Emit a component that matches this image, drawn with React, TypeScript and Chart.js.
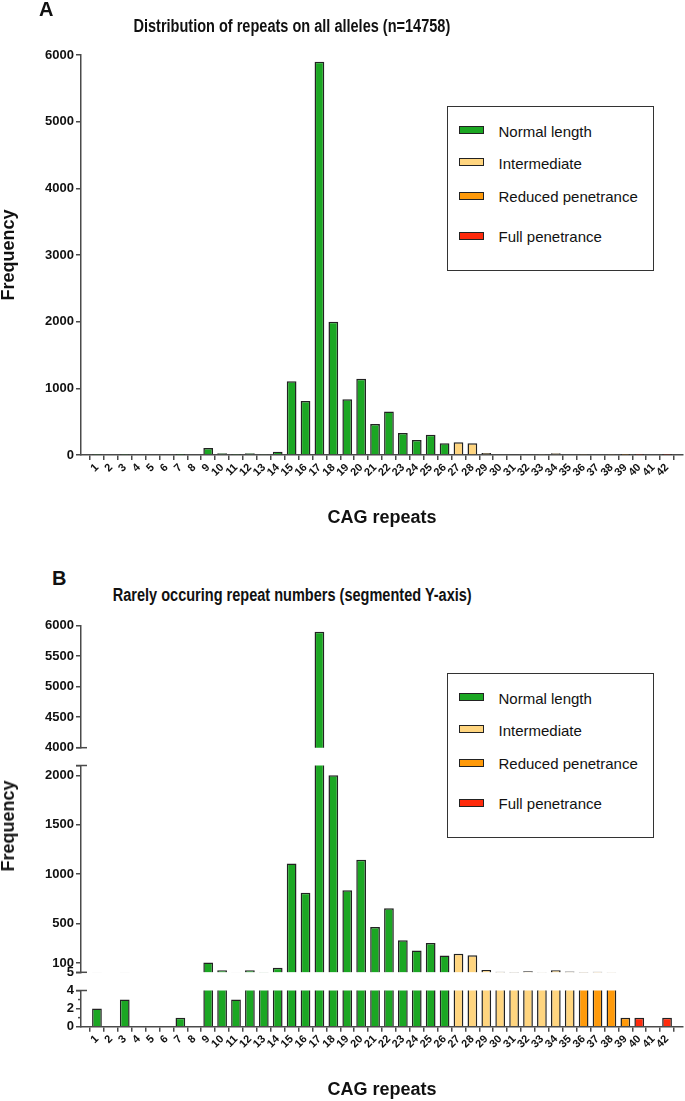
import React, { useEffect, useRef } from 'react';
import { Chart, registerables } from 'chart.js';

Chart.register(...registerables);

// ---------------- data ----------------
const repeats = [
  1, 2, 3, 4, 5, 6, 7, 8, 9, 10, 11, 12, 13, 14, 15, 16, 17, 18, 19, 20, 21,
  22, 23, 24, 25, 26, 27, 28, 29, 30, 31, 32, 33, 34, 35, 36, 37, 38, 39, 40, 41, 42,
];
const frequency = [
  2, 0, 3, 0, 0, 0, 1, 0, 105, 25, 3, 25, 6, 50, 1108, 810, 5900, 2000, 837, 1145, 465,
  654, 330, 226, 302, 176, 192, 178, 29, 10, 8, 15, 6, 25, 12, 7, 10, 6, 1, 1, 0, 1,
];
const classNames = ['Normal length', 'Intermediate', 'Reduced penetrance', 'Full penetrance'];
const classColors = ['#1BA723', '#FFD57F', '#FF9A0A', '#FF2B0C'];
const classUpperBound = [26, 35, 39, 42];

const yTicksA = [0, 1000, 2000, 3000, 4000, 5000, 6000];
const yTicksTop = [4000, 4500, 5000, 5500, 6000];
const yTicksMid = [5, 100, 500, 1000, 1500, 2000, 2100];
const yLabelsMid = ['5', '100', '500', '1000', '1500', '2000', ''];
const yTicksLow = [0, 1, 2, 3, 4];
const yLabelsLow = ['0', '', '2', '', '4'];
const xRange = [0.368, 42.632];

const titleA = 'Distribution of repeats on all alleles (n=14758)';
const titleB = 'Rarely occuring repeat numbers (segmented Y-axis)';
const xTitle = 'CAG repeats';
const yTitle = 'Frequency';

// ---------------- styles ----------------
const AXIS = '#4a4a4a';
const INK = '#111111';
const BAR_BORDER = '#222222';
const FONT = '"Liberation Sans", Arial, Helvetica, sans-serif';

Chart.defaults.font.family = FONT;
Chart.defaults.color = INK;

const colorFor = (r: number) => classColors[classUpperBound.findIndex((b) => r <= b)];

const axisBreakPlugin = {
  id: 'axisBreak',
  afterDraw(chart: any, _args: any, opts: any) {
    const { ctx, chartArea } = chart;
    const y = chart.scales.y;
    ctx.save();
    ctx.strokeStyle = AXIS;
    ctx.lineWidth = 1.5;
    const seg = (py: number, x0: number, x1: number) => {
      ctx.beginPath();
      ctx.moveTo(x0, py);
      ctx.lineTo(x1, py);
      ctx.stroke();
    };
    if (opts.top) seg(chartArea.top, chartArea.left - 5, chartArea.left + 6);
    if (opts.bottom) seg(chartArea.bottom, chartArea.left - 5, chartArea.left + 6);
    (opts.minor || []).forEach((v: number) => seg(y.getPixelForValue(v), chartArea.left - 3, chartArea.left));
    ctx.restore();
  },
};

type Cfg = {
  yTicks: number[];
  yLabels?: string[];
  showX: boolean;
  padTop: number;
  padBottom: number;
  breakTop?: boolean;
  breakBottom?: boolean;
  minor?: number[];
  showYTitle?: boolean;
};

function makeConfig(p: Cfg): any {
  const labels = p.yLabels || p.yTicks.map(String);
  return {
    type: 'bar',
    data: {
      datasets: [
        {
          data: repeats.map((r, i) => ({ x: r, y: frequency[i] })),
          backgroundColor: repeats.map(colorFor),
          borderColor: BAR_BORDER,
          borderWidth: 1.5,
          barPercentage: 1,
          categoryPercentage: 0.7,
          clip: 0,
        },
      ],
    },
    options: {
      animation: false,
      responsive: false,
      maintainAspectRatio: false,
      layout: { padding: { left: 0, right: 2, top: p.padTop, bottom: p.padBottom } },
      plugins: {
        legend: { display: false },
        tooltip: { enabled: false },
        title: { display: false },
        axisBreak: { top: p.breakTop, bottom: p.breakBottom, minor: p.minor },
      },
      scales: {
        x: {
          type: 'linear',
          display: p.showX,
          min: xRange[0],
          max: xRange[1],
          afterBuildTicks: (s: any) => {
            s.ticks = repeats.map((v) => ({ value: v }));
          },
          afterFit: (s: any) => {
            s.height = p.showX ? 72 : 0;
          },
          ticks: {
            autoSkip: false,
            minRotation: 45,
            maxRotation: 45,
            padding: 1,
            color: INK,
            font: { size: 11, weight: 'bold' },
            callback: (v: any) => String(v),
          },
          grid: { drawOnChartArea: false, drawTicks: true, tickLength: 5, color: AXIS, lineWidth: 1.5 },
          border: { display: true, color: AXIS, width: 1.5 },
          title: {
            display: true,
            text: xTitle,
            color: INK,
            font: { size: 18, weight: 'bold', lineHeight: 1 },
            padding: { top: 0, bottom: 0 },
          },
        },
        y: {
          type: 'linear',
          min: p.yTicks[0],
          max: p.yTicks[p.yTicks.length - 1],
          afterBuildTicks: (s: any) => {
            s.ticks = p.yTicks.map((v) => ({ value: v }));
          },
          afterFit: (s: any) => {
            s.width = 81;
          },
          ticks: {
            autoSkip: false,
            padding: 2,
            color: INK,
            font: { size: 13, weight: 'bold' },
            callback: (_v: any, i: number) => labels[i],
          },
          grid: {
            drawOnChartArea: false,
            drawTicks: true,
            tickLength: 5,
            lineWidth: 1.5,
            color: AXIS,
            tickColor: (ctx: any) =>
              p.minor && ctx.tick && p.minor.includes(ctx.tick.value) ? 'rgba(0,0,0,0)' : AXIS,
          },
          border: { display: true, color: AXIS, width: 1.5 },
          title: {
            display: !!p.showYTitle,
            text: yTitle,
            color: INK,
            font: { size: 18, weight: 'bold', lineHeight: 1 },
            padding: { top: 0, bottom: 0 },
          },
        },
      },
    },
    plugins: [axisBreakPlugin],
  };
}

const legendRows = [24.5, 56.5, 90, 130];

function Legend({ top }: { top: number }) {
  return (
    <div
      style={{
        position: 'absolute',
        left: 447,
        top,
        width: 207,
        height: 165,
        border: '1.5px solid #333',
        boxSizing: 'border-box',
        background: '#fff',
      }}
    >
      {classNames.map((name, i) => (
        <React.Fragment key={name}>
          <div
            style={{
              position: 'absolute',
              left: 10.5,
              top: legendRows[i] - 1.5 - 4,
              width: 25,
              height: 8,
              boxSizing: 'border-box',
              border: '1px solid #222',
              background: classColors[i],
            }}
          />
          <div
            style={{
              position: 'absolute',
              left: 50.5,
              top: legendRows[i] - 1.5 - 7.5 + 1,
              fontFamily: FONT,
              fontSize: 15,
              lineHeight: '15px',
              color: INK,
              whiteSpace: 'nowrap',
            }}
          >
            {name}
          </div>
        </React.Fragment>
      ))}
    </div>
  );
}

const abs = (left: number, top: number, extra: any = {}) => ({ position: 'absolute' as const, left, top, ...extra });

export default function App() {
  const refA = useRef<HTMLCanvasElement>(null);
  const refTop = useRef<HTMLCanvasElement>(null);
  const refMid = useRef<HTMLCanvasElement>(null);
  const refLow = useRef<HTMLCanvasElement>(null);

  useEffect(() => {
    const charts = [
      new Chart(refA.current!, makeConfig({ yTicks: yTicksA, showX: true, padTop: 55, padBottom: 0, showYTitle: true })),
      new Chart(refTop.current!, makeConfig({ yTicks: yTicksTop, showX: false, padTop: 20.7, padBottom: 17.3, breakBottom: true })),
      new Chart(
        refMid.current!,
        makeConfig({ yTicks: yTicksMid, yLabels: yLabelsMid, showX: false, padTop: 20.5, padBottom: 17.7, breakTop: true, breakBottom: true })
      ),
      new Chart(
        refLow.current!,
        makeConfig({ yTicks: yTicksLow, yLabels: yLabelsLow, showX: true, padTop: 20.5, padBottom: 0.3, breakTop: true, minor: [1, 3] })
      ),
    ];
    return () => charts.forEach((c) => c.destroy());
  }, []);

  const letter = { fontFamily: FONT, fontWeight: 'bold' as const, fontSize: 20, lineHeight: '20px', color: INK };
  const ttlWrap = { width: 584, display: 'flex', justifyContent: 'center' };
  const ttl = {
    fontFamily: FONT,
    fontWeight: 'bold' as const,
    fontSize: 17.5,
    lineHeight: '17.5px',
    color: INK,
    whiteSpace: 'nowrap' as const,
    transform: 'scaleX(0.83)',
    transformOrigin: '50% 50%',
  };

  return (
    <div style={{ position: 'absolute', left: 0, top: 0, width: 685, height: 1101, background: '#fff', overflow: 'hidden' }}>
      <canvas ref={refA} width={685} height={527} style={abs(0, 0)} />
      <canvas ref={refTop} width={685} height={160} style={abs(0, 605)} />
      <canvas ref={refMid} width={685} height={245} style={abs(0, 745)} />
      <canvas ref={refLow} width={685} height={129} style={abs(0, 970)} />

      <div style={abs(39, -0.9, letter)}>A</div>
      <div style={abs(0, 18.2, ttlWrap)}>
        <div style={ttl}>{titleA}</div>
      </div>
      <div style={abs(52, 568.1, letter)}>B</div>
      <div style={abs(0, 586.7, ttlWrap)}>
        <div style={ttl}>{titleB}</div>
      </div>

      <div
        style={abs(8.4, 826, {
          transform: 'translate(-50%, -50%) rotate(-90deg)',
          fontFamily: FONT,
          fontWeight: 'bold',
          fontSize: 18,
          lineHeight: '18px',
          color: INK,
          whiteSpace: 'nowrap',
        })}
      >
        {yTitle}
      </div>

      <Legend top={106} />
      <Legend top={673} />
    </div>
  );
}
